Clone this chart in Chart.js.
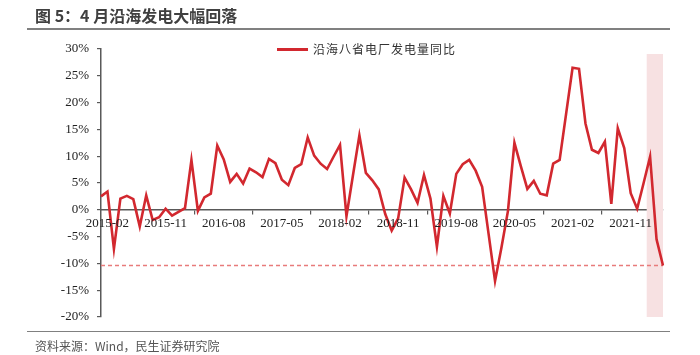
<!DOCTYPE html>
<html>
<head>
<meta charset="utf-8">
<script src="https://cdn.jsdelivr.net/npm/chart.js@4.4.1/dist/chart.umd.min.js"></script>
<style>
  html, body { margin:0; padding:0; background:#fff; }
  #wrap { position:relative; width:700px; height:355px; overflow:hidden; }
  #title { position:absolute; left:35px; top:5px; font-family:"Noto Sans CJK SC","Noto Sans",sans-serif; font-weight:bold; font-size:16px; color:#404040; white-space:nowrap; line-height:20px; }
  #rule1 { position:absolute; left:27px; top:28px; width:643px; height:2px; background:#808080; }
  #rule2 { position:absolute; left:27px; top:331px; width:643px; height:1px; background:#808080; }
  #source { position:absolute; left:35px; top:338px; font-family:"Noto Sans CJK SC","Noto Sans",sans-serif; font-size:12px; color:#555; white-space:nowrap; line-height:16px; }
  #legend { position:absolute; left:277px; top:41px; height:16px; white-space:nowrap; font-family:"Noto Sans CJK SC",sans-serif; font-size:12px; color:#333; letter-spacing:1px; line-height:16px; }
  #legend .sw { display:inline-block; width:31px; height:2.5px; background:#D2282F; vertical-align:middle; margin-right:5px; position:relative; top:-1px; }
  canvas { position:absolute; left:0; top:0; }
</style>
</head>
<body>
<div id="wrap">
  <canvas id="c" width="700" height="355"></canvas>
  <div id="title">图 5：4 月沿海发电大幅回落</div>
  <div id="rule1"></div>
  <div id="legend"><span class="sw"></span><span id="legtext"></span></div>
  <div id="rule2"></div>
  <div id="source">资料来源：Wind，民生证券研究院</div>
</div>
<script>
// ---- data ----
const seriesName = "沿海八省电厂发电量同比";
const startYear = 2015, startMonth = 1; // 2015-01 ... 2022-04
const yoy = [
  2.5, 3.4, -7.3, 2.1, 2.6, 2.0, -3.1, 2.7, -1.9, -1.4, 0.2, -1.1,
  -0.4, 0.3, 9.3, -0.2, 2.3, 3.0, 12.0, 9.4, 5.2, 6.7, 4.9, 7.7,
  7.0, 6.1, 9.5, 8.7, 5.6, 4.6, 7.8, 8.5, 13.5, 10.1, 8.6, 7.6,
  9.9, 12.1, -1.2, 6.4, 13.9, 6.9, 5.5, 3.8, -0.8, -3.9, -1.6, 6.0,
  3.8, 1.3, 6.5, 2.1, -6.9, 2.6, -0.7, 6.7, 8.5, 9.3, 7.3, 4.3,
  -4.5, -13.3, -7.0, -0.2, 12.5, 8.1, 3.9, 5.4, 3.0, 2.7, 8.6, 9.3,
  17.9, 26.5, 26.3, 16.1, 11.2, 10.6, 12.7, 1.1, 15.2, 11.5, 3.1, 0.2,
  5.0, 9.9, -5.5, -10.4
];
const yTicks = [-20, -15, -10, -5, 0, 5, 10, 15, 20, 25, 30];
const xTickLabels = ["2015-02","2015-11","2016-08","2017-05","2018-02","2018-11","2019-08","2020-05","2021-02","2021-11"];
const highlightMonths = ["2022-03"];   // shaded band centre
const highlightRange = [-20, 29];

// ---- derived ----
const months = yoy.map((_, i) => {
  const t = (startYear * 12 + startMonth - 1) + i;
  const y = Math.floor(t / 12), m = t % 12 + 1;
  return y + "-" + String(m).padStart(2, "0");
});
const lastVal = yoy[yoy.length - 1];
const refLine = months.map(() => lastVal);
const band = months.map(m => highlightMonths.includes(m) ? highlightRange : null);

document.getElementById("legtext").textContent = seriesName;

const serif = "'Liberation Serif','Times New Roman',serif";

new Chart(document.getElementById("c"), {
  type: "line",
  data: {
    labels: months,
    datasets: [
      {
        label: seriesName, data: yoy, borderColor: "#D2282F", backgroundColor: "#D2282F",
        borderWidth: 2.6, pointRadius: 0, tension: 0, order: 0
      },
      {
        label: "ref", data: refLine, borderColor: "#E87B7B", borderWidth: 1.5,
        borderDash: [4, 3], pointRadius: 0, order: 1
      },
      {
        type: "bar", label: "band", data: band, backgroundColor: "#F7E1E2",
        barThickness: 19, order: 2
      }
    ]
  },
  options: {
    responsive: false, animation: false,
    layout: { padding: { left: 0, right: 37, top: 49, bottom: 38 } },
    plugins: { legend: { display: false }, tooltip: { enabled: false } },
    scales: {
      x: {
        type: "category", offset: false, position: { y: 0 },
        border: { display: true, color: "#595959", width: 1.5 },
        grid: { drawOnChartArea: false, tickLength: 4, color: "#595959", lineWidth: 1.2 },
        ticks: {
          z: 1, autoSkip: false, maxRotation: 0, padding: 2, color: "#222",
          font: { family: serif, size: 13 },
          callback: function (v, i) {
            const l = months[i];
            return xTickLabels.includes(l) ? l : null;
          }
        }
      },
      y: {
        min: yTicks[0], max: yTicks[yTicks.length - 1],
        afterFit: s => { s.width = 101; },
        afterBuildTicks: s => { s.ticks = yTicks.map(v => ({ value: v })); },
        border: { display: true, color: "#595959", width: 1.5 },
        grid: { drawOnChartArea: false, tickLength: 4, color: "#595959", lineWidth: 1.2 },
        ticks: {
          padding: 8, color: "#222", font: { family: serif, size: 13 },
          callback: v => v + "%"
        }
      }
    }
  }
});
</script>
</body>
</html>
